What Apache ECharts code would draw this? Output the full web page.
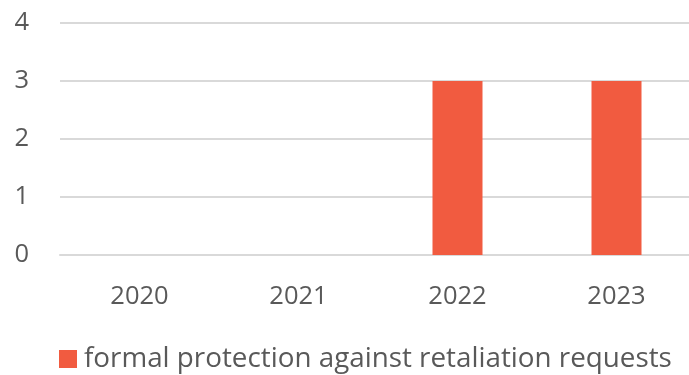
<!DOCTYPE html>
<html>
<head>
<meta charset="utf-8">
<script src="https://cdn.jsdelivr.net/npm/echarts@6/dist/echarts.min.js"></script>
<style>html,body{margin:0;padding:0;background:#fff}#c{width:689px;height:375px}</style>
</head>
<body>
<div id="c"></div>
<script>
const categories = ['2020', '2021', '2022', '2023'];
const requests = [0, 0, 3, 3];
const seriesName = 'formal protection against retaliation requests';
const yTicks = [0, 1, 2, 3, 4];

const chart = echarts.init(document.getElementById('c'), null, {renderer: 'canvas'});
const font = '"Open Sans", sans-serif';
chart.setOption({
  animation: false,
  grid: {left: 60, width: 636, top: 23, height: 232, containLabel: false, outerBoundsMode: 'none'},
  legend: {
    data: [seriesName],
    left: 59, top: 345, padding: 0,
    itemWidth: 18, itemHeight: 18, itemGap: 8,
    icon: 'rect',
    textStyle: {fontFamily: font, fontSize: 27.8, color: '#595959', padding: [0, 0, 0, 2]}
  },
  xAxis: {
    type: 'category',
    data: categories,
    axisLine: {show: true, lineStyle: {color: '#D9D9D9', width: 2}},
    axisTick: {show: false},
    axisLabel: {fontFamily: font, fontSize: 25.5, color: '#595959', margin: 29}
  },
  yAxis: {
    type: 'value',
    min: yTicks[0], max: yTicks[yTicks.length - 1], interval: 1,
    axisLine: {show: false},
    axisTick: {show: false},
    splitLine: {lineStyle: {color: '#D9D9D9', width: 2}},
    axisLabel: {fontFamily: font, fontSize: 25.5, color: '#595959', margin: 31}
  },
  series: [{
    name: seriesName,
    type: 'bar',
    data: requests,
    barWidth: 50,
    itemStyle: {color: '#F15B40'}
  }]
});
</script>
</body>
</html>
